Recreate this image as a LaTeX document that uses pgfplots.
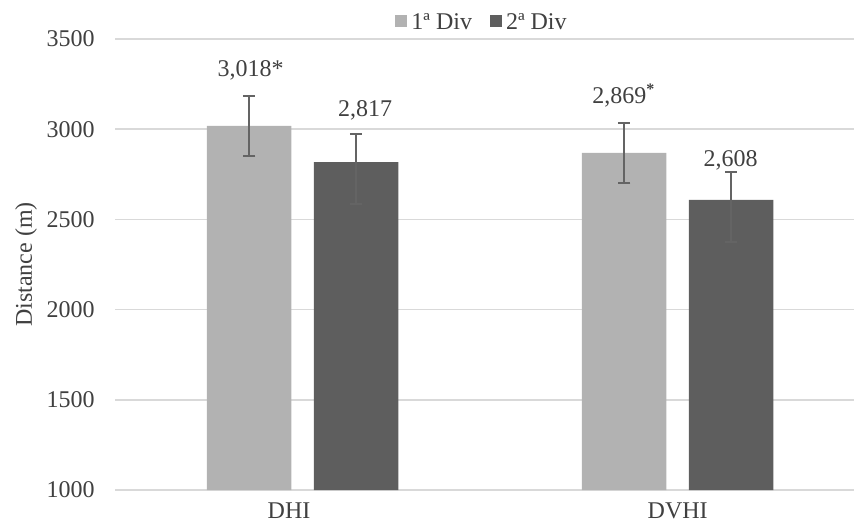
\documentclass[border=0pt]{standalone}
\usepackage{fontspec}
\setmainfont{Liberation Serif}
\usepackage{pgfplots}
\pgfplotsset{compat=1.18}
\definecolor{barA}{HTML}{B2B2B2}
\definecolor{barB}{HTML}{5E5E5E}
\definecolor{errc}{HTML}{646464}
\definecolor{gridc}{HTML}{D9D9D9}
\definecolor{txt}{HTML}{404040}
\begin{document}
\begin{tikzpicture}[font=\fontsize{12}{14.4}\selectfont]
\useasboundingbox (-57.5pt,-15.5pt) rectangle (369.5pt,245pt);
\begin{axis}[
  at={(0,0)}, anchor=south west,
  scale only axis, width=369.5pt, height=225.5pt,
  ybar, bar width=42.25pt,
  xmin=-0.5, xmax=1.47,
  ymin=1000, ymax=3500,
  ytick={1000,1500,2000,2500,3000,3500},
  xtick={0,1},
  xticklabels={DHI\hspace*{13.5pt}, DVHI},
  major tick length=0pt,
  ymajorgrids, grid style={gridc, line width=0.75pt},
  separate axis lines,
  axis x line*=bottom, axis y line*=left,
  y axis line style={draw=none},
  x axis line style={draw=gridc, line width=1pt, -},
  /pgf/number format/assume math mode=true,
  /pgf/number format/1000 sep={},
  tick label style={font=\fontsize{12}{14.4}\selectfont, text=txt},
  yticklabel style={anchor=east, inner sep=0pt, xshift=-10pt},
  xticklabel style={anchor=north, inner sep=0pt, yshift=-6pt},
  ylabel={Distance (m)},
  every axis y label/.style={at={(axis description cs:0,0.5)}, xshift=-44.5pt, rotate=90, anchor=center, font=\fontsize{12}{14.4}\selectfont, text=txt},
  legend columns=2,
  legend style={at={(axis description cs:0.498,1.0355)}, anchor=center, draw=none, fill=none,
    font=\fontsize{12}{14.4}\selectfont, text=txt,
    /tikz/every even column/.append style={column sep=7pt}},
  legend image code/.code={\fill[#1] (0pt,-2pt) rectangle (6pt,4pt);},
  legend cell align=left,
]
\addplot[bar shift=-26.75pt, fill=barA, draw=none,
  error bars/.cd, y dir=both, y explicit, error mark=|,
  error bar style={draw=errc, line width=1pt},
  error mark options={draw=errc, line width=1pt, mark size=3.1pt}]
  coordinates {(0,3018) += (0,166) -= (0,167) (1,2869) += (0,167) -= (0,166)};
\addlegendentry{1ª Div}
\addplot[bar shift=26.75pt, fill=barB, draw=none,
  error bars/.cd, y dir=both, y explicit, error mark=|,
  error bar style={draw=errc, line width=1pt},
  error mark options={draw=errc, line width=1pt, mark size=3.1pt}]
  coordinates {(0,2817) += (0,156) -= (0,232) (1,2608) += (0,153) -= (0,232)};
\addlegendentry{2ª Div}
\addplot[forget plot, bar shift=0pt, bar width=0pt, draw=none, fill=none, nodes near coords, point meta=explicit symbolic,
  every node near coord/.append style={anchor=base, inner sep=0pt, text=txt, font=\fontsize{12}{14.4}\selectfont}]
  coordinates {(-0.1386,3291) [3,018*] (0.1665,3069) [2,817] (0.8566,3144) [{2,869\textsuperscript{\textbf{*}}}] (1.141,2792) [2,608]};
\end{axis}
\end{tikzpicture}
\end{document}
